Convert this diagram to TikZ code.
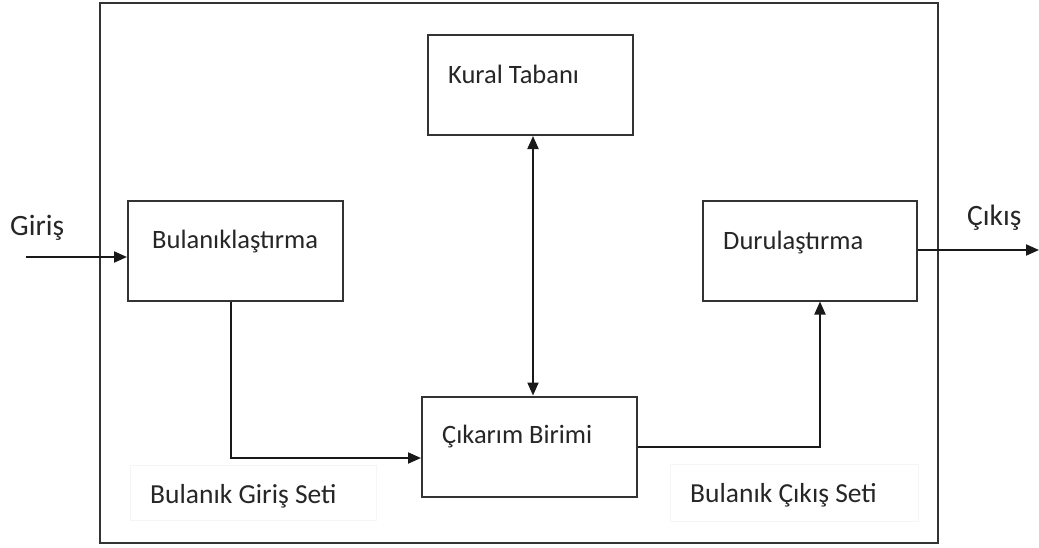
\documentclass[tikz,border=0pt]{standalone}
\usepackage{fontspec}
\setmainfont{Carlito}
\usetikzlibrary{arrows.meta}
\begin{document}
\begin{tikzpicture}[x=1pt,y=-1pt,
  block/.style={draw=black!80,line width=2pt,minimum width=#1,minimum height=100pt,inner sep=0pt},
  txt/.style={anchor=base west,inner sep=0pt,text=black!85,font=\fontsize{26.5}{30}\selectfont},
  settxt/.style={txt,font=\fontsize{27.5}{32}\selectfont},
  iotxt/.style={txt,font=\fontsize{29.5}{34}\selectfont},
  conn/.style={line width=2pt,draw=black!90},
  tip/.style={-{Triangle[length=13pt,width=11pt]}},
  tips/.style={{Triangle[length=13pt,width=11pt]}-{Triangle[length=13pt,width=11pt]}}]
  \useasboundingbox (0,0) rectangle (1039,547);
  \fill[white] (0,0) rectangle (1039,547);

  % system frame
  \draw[line width=2pt,draw=black!80] (100,3) rectangle (938,543);

  % blocks
  \node[block=205pt] (kural) at (530,85) {};
  \node[block=215pt] (bul) at (235.5,251) {};
  \node[block=215pt] (cik) at (529.5,446.5) {};
  \node[block=214pt] (dur) at (810,250.5) {};

  % block texts
  \node[txt] (tkural) at (448,83) {Kural Tabanı};
  \node[txt] (tbul) at (152,248) {Bulanıklaştırma};
  \node[txt] (tcik) at (442,443) {Çıkarım Birimi};
  \node[txt] (tdur) at (723,249) {Durulaştırma};

  % input / output labels
  \node[iotxt] (giris) at (10,235) {Giriş};
  \node[iotxt] (cikis) at (967,225) {Çıkış};

  % fuzzy set labels with their faint frames
  \draw[black!4,line width=0.8pt] (130,465) rectangle (376,520);
  \draw[black!4,line width=0.8pt] (670,464) rectangle (918,521);
  \node[settxt] (bgs) at (150,503) {Bulanık Giriş Seti};
  \node[settxt] (bcs) at (690,502) {Bulanık Çıkış Seti};

  % connector helper points
  \coordinate (in) at (26,257);
  \coordinate (out) at (1039,250);
  \coordinate (bx) at (533,0);
  \coordinate (c1) at (231,458);
  \coordinate (c2) at (820,447);

  % connectors
  \draw[conn,tip] (in) -- (in -| bul.west);
  \draw[conn,tip] (dur.east |- out) -- (out);
  \draw[conn,tips] (kural.south -| bx) -- (cik.north -| bx);
  \draw[conn,tip] (bul.south -| c1) -- (c1) -- (c1 -| cik.west);
  \draw[conn,tip] (c2 -| cik.east) -- (c2) -- (c2 |- dur.south);
\end{tikzpicture}
\end{document}
